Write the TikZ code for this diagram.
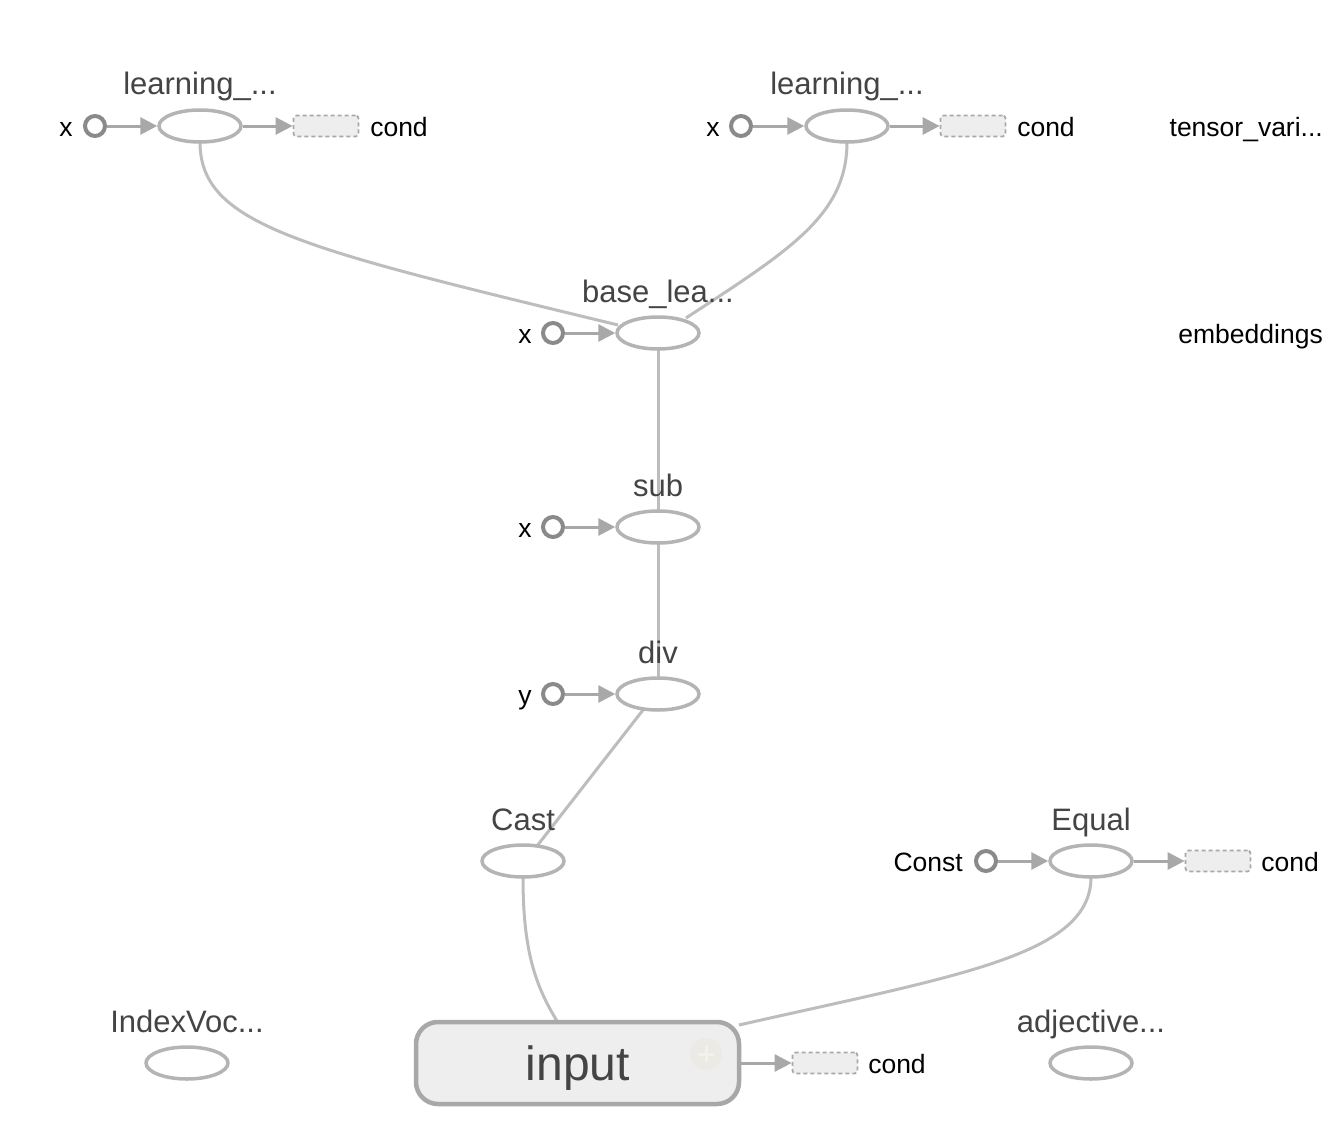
\documentclass[tikz,border=0pt]{standalone}
\usepackage{fontspec}
\setmainfont{Liberation Sans}
\usetikzlibrary{shapes.geometric,arrows.meta}
\definecolor{opstroke}{HTML}{B4B4B4}
\definecolor{constroke}{HTML}{8A8A8A}
\definecolor{edgecol}{HTML}{BDBDBD}
\definecolor{arrcol}{HTML}{A8A8A8}
\definecolor{boxfill}{HTML}{EEEEEE}
\definecolor{labcol}{HTML}{444444}
\definecolor{faintfill}{HTML}{EBEAE5}
\definecolor{faintplus}{HTML}{F2F1EE}
\tikzset{
  opnode/.style={ellipse,draw=opstroke,line width=3.5pt,minimum width=82pt,minimum height=32pt,inner sep=0pt,fill=white},
  constnode/.style={circle,draw=constroke,line width=4pt,minimum size=20pt,inner sep=0pt,fill=white},
  condbox/.style={rectangle,rounded corners=3pt,draw=arrcol,dashed,dash pattern=on 4pt off 3pt,line width=1.8pt,fill=boxfill,minimum width=65pt,minimum height=21pt,inner sep=0pt},
  biglab/.style={anchor=base,inner sep=0pt,text=labcol,font=\fontsize{31}{36}\selectfont},
  smalllab/.style={anchor=base,inner sep=0pt,text=black,font=\fontsize{26.5}{30}\selectfont},
  inarrow/.style={draw=arrcol,line width=3pt,-{Triangle[length=17pt,width=17pt]}},
  edge/.style={draw=edgecol,line width=3pt},
  inputbox/.style={rectangle,rounded corners=22pt,draw=arrcol,line width=4.5pt,fill=boxfill,minimum width=323pt,minimum height=82pt,inner sep=0pt}
}
\begin{document}
\begin{tikzpicture}[x=1pt,y=-1pt]
\useasboundingbox[fill=white] (0,0) rectangle (1328,1124);

% edges (behind nodes)
\coordinate (l1b) at (200,142);
\coordinate (l2b) at (847,142);
\coordinate (bl) at (618,325);
\coordinate (br) at (686,318);
\draw[edge] (l1b) .. controls (200,225) and (300,248) .. (bl);
\draw[edge] (l2b) .. controls (847,215) and (790,250) .. (br);
\draw[edge] (658,349) -- (658,511);
\draw[edge] (658,543) -- (658,678);
\draw[edge] (643,710) -- (537,846);
\draw[edge] (523,877) .. controls (523,950) and (535,985) .. (557,1021);
\draw[edge] (1091,877) .. controls (1091,955) and (960,975) .. (739,1025);

% learning 1
\node[opnode] (lr1) at (200,126) {};
\node[biglab] (lr1l) at (200,95) {learning\_...};
\node[constnode] (lr1x) at (95,126) {};
\node[smalllab] (lr1xt) at (66,136) {x};
\node[condbox] (lr1c) at (326,126) {};
\node[smalllab] (lr1ct) at (399,136) {cond};
\draw[inarrow] (lr1x) -- (lr1);
\draw[inarrow] (lr1) -- (lr1c);

% learning 2
\node[opnode] (lr2) at (847,126) {};
\node[biglab] (lr2l) at (847,95) {learning\_...};
\node[constnode] (lr2x) at (741,126) {};
\node[smalllab] (lr2xt) at (713,136) {x};
\node[condbox] (lr2c) at (973,126) {};
\node[smalllab] (lr2ct) at (1046,136) {cond};
\draw[inarrow] (lr2x) -- (lr2);
\draw[inarrow] (lr2) -- (lr2c);

\node[smalllab,anchor=base east] (tv) at (1323,136) {tensor\_vari...};
\node[smalllab,anchor=base east] (emb) at (1323,343) {embeddings};

% base_lea
\node[opnode] (base) at (658,333) {};
\node[biglab] (basel) at (658,302) {base\_lea...};
\node[constnode] (basex) at (553,333) {};
\node[smalllab] (basext) at (525,343) {x};
\draw[inarrow] (basex) -- (base);

% sub
\node[opnode] (sub) at (658,527) {};
\node[biglab] (subl) at (658,496) {sub};
\node[constnode] (subx) at (553,527) {};
\node[smalllab] (subxt) at (525,537) {x};
\draw[inarrow] (subx) -- (sub);

% div
\node[opnode] (div) at (658,694) {};
\node[biglab] (divl) at (658,663) {div};
\node[constnode] (divy) at (553,694) {};
\node[smalllab] (divyt) at (525,704) {y};
\draw[inarrow] (divy) -- (div);

% Cast
\node[opnode] (cast) at (523,861) {};
\node[biglab] (castl) at (523,830) {Cast};

% Equal
\node[opnode] (eq) at (1091,861) {};
\node[biglab] (eql) at (1091,830) {Equal};
\node[constnode] (eqc) at (986,861) {};
\node[smalllab,anchor=base east] (eqct) at (963,871) {Const};
\node[condbox] (eqcb) at (1218,861) {};
\node[smalllab] (eqcbt) at (1290,871) {cond};
\draw[inarrow] (eqc) -- (eq);
\draw[inarrow] (eq) -- (eqcb);

% IndexVoc
\node[opnode] (idx) at (187,1063) {};
\node[biglab] (idxl) at (187,1032) {IndexVoc...};

% adjective
\node[opnode] (adj) at (1091,1063) {};
\node[biglab] (adjl) at (1091,1032) {adjective...};

% input
\node[inputbox] (inp) at (577.5,1063) {};
\node[anchor=base,inner sep=0pt,text=labcol,font=\fontsize{48}{56}\selectfont] (inpt) at (578,1080) {input};
\node[circle,fill=faintfill,minimum size=32pt,inner sep=0pt] (inpc) at (706,1054) {};
\draw[faintplus,line width=3pt] ([xshift=-8pt]inpc.center) -- ([xshift=8pt]inpc.center);
\draw[faintplus,line width=3pt] ([yshift=-8pt]inpc.center) -- ([yshift=8pt]inpc.center);
\node[condbox] (inpcb) at (825,1063) {};
\node[smalllab] (inpcbt) at (897,1073) {cond};
\draw[inarrow] (inp) -- (inpcb);
\end{tikzpicture}
\end{document}
